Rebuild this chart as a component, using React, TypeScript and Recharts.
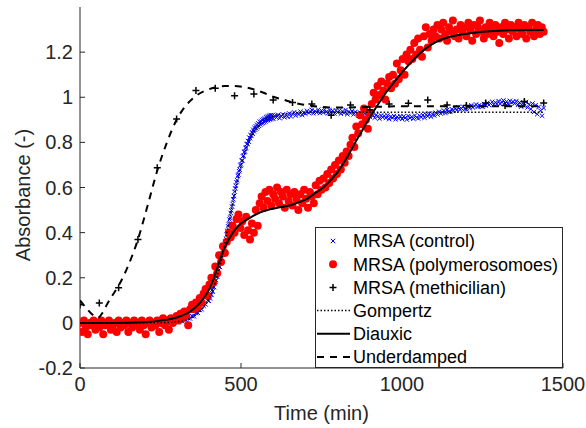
import React from 'react';
import { ComposedChart, Scatter, Line, XAxis, YAxis, Label } from 'recharts';

// sampling steps (min) of the measured series
const RED_STEP = 6;
const BLUE_EARLY_STEP = 6;
const BLUE_RISE_START = 400;
const BLUE_RISE_STEP = 2;
const BLUE_LATE_START = 600;
const BLUE_LATE_STEP = 5;
const METH_STEP = 60;

// MRSA (polymerosomoes), t = 0..1440 every 6 min
const redValues = [
  0.0, -0.04, 0.01, -0.02, -0.05, 0.0, -0.01, 0.01, -0.03, 0.0,
  -0.02, 0.01, -0.05, -0.01, 0.0, 0.01, -0.03, -0.01, 0.0, -0.04,
  0.01, -0.02, 0.0, -0.01, 0.01, -0.04, 0.0, -0.02, 0.01, -0.01,
  0.0, -0.03, 0.01, -0.01, -0.05, 0.0, 0.01, -0.02, 0.0, -0.01,
  0.01, -0.04, 0.0, 0.02, -0.01, 0.01, -0.03, 0.02, 0.0, 0.01,
  0.03, 0.01, 0.04, 0.02, 0.05, 0.03, -0.01, 0.06, 0.08, 0.06,
  0.09, 0.07, 0.11, 0.09, 0.13, 0.15, 0.12, 0.17, 0.2, 0.18,
  0.25, 0.22, 0.3, 0.27, 0.34, 0.31,
  0.36, 0.4, 0.38, 0.43, 0.4, 0.46, 0.48, 0.42, 0.45, 0.39,
  0.47, 0.41, 0.37, 0.44, 0.4, 0.5, 0.43, 0.53,
  0.56, 0.51, 0.58, 0.54, 0.59, 0.52, 0.57, 0.55, 0.6, 0.53,
  0.58, 0.56, 0.51, 0.59, 0.54, 0.57, 0.52, 0.58, 0.55, 0.5,
  0.57, 0.53, 0.59, 0.55, 0.51, 0.58, 0.56, 0.53,
  0.61, 0.57, 0.63, 0.59, 0.64, 0.6, 0.66, 0.62, 0.68, 0.64,
  0.7, 0.66, 0.72, 0.68, 0.74, 0.71, 0.76,
  0.74, 0.79, 0.82, 0.78, 0.87, 0.84, 0.92, 0.88, 0.95, 0.9,
  0.86, 0.93, 0.97, 1.02, 0.99, 1.05, 1.01, 1.07, 1.03, 0.99,
  1.06, 1.09, 1.04, 1.1, 1.06, 1.15, 1.08, 1.12, 1.17, 1.1,
  1.19, 1.16,
  1.21, 1.17, 1.24, 1.19, 1.26, 1.21, 1.18, 1.27, 1.31, 1.22,
  1.28, 1.25, 1.3,
  1.27, 1.32, 1.26, 1.3, 1.33, 1.28, 1.25, 1.31, 1.29, 1.34,
  1.27, 1.3, 1.26, 1.32, 1.29, 1.31, 1.27, 1.33, 1.3, 1.25,
  1.32, 1.28, 1.31, 1.34, 1.29, 1.26, 1.31, 1.28, 1.33, 1.3,
  1.27, 1.32, 1.29, 1.24, 1.31, 1.28, 1.33, 1.3, 1.26, 1.32,
  1.29, 1.31, 1.27, 1.33, 1.3, 1.28, 1.32, 1.26, 1.31, 1.29,
  1.33, 1.27, 1.3, 1.32, 1.28, 1.31, 1.29,
];

// MRSA (control), three sampling windows
const blueEarly = [
  0.003, -0.002, 0.004, 0.0, -0.003, 0.002, 0.005, -0.001, 0.001, -0.004,
  0.002, 0.004, -0.002, 0.0, 0.003, -0.003, 0.001, 0.005, -0.001, 0.002,
  -0.004, 0.003, 0.0, 0.004, -0.002, 0.001, 0.003, -0.003, 0.002, 0.0,
  0.004, -0.001, 0.002, -0.003, 0.005, 0.001, -0.002, 0.003, 0.0, 0.004,
  -0.001, 0.003, 0.001, 0.005, 0.0, 0.004, 0.002, 0.006, 0.003, 0.005,
  0.008, 0.003, 0.011, 0.007, 0.015, 0.012, 0.021, 0.019, 0.03, 0.029,
  0.043, 0.044, 0.057, 0.06, 0.075, 0.082, 0.1,
];
const blueRise = [
  0.098, 0.115, 0.108, 0.127, 0.124, 0.145, 0.139, 0.16, 0.158, 0.176,
  0.183, 0.19, 0.207, 0.205, 0.229, 0.232, 0.251, 0.248, 0.272, 0.279,
  0.288, 0.305, 0.309, 0.328, 0.335, 0.352, 0.361, 0.372, 0.392, 0.405,
  0.428, 0.437, 0.458, 0.466, 0.487, 0.498, 0.516, 0.527, 0.548, 0.562,
  0.581, 0.596, 0.608, 0.624, 0.632, 0.651, 0.657, 0.672, 0.679, 0.697,
  0.702, 0.718, 0.72, 0.738, 0.741, 0.757, 0.76, 0.775, 0.777, 0.792,
  0.794, 0.806, 0.803, 0.821, 0.819, 0.832, 0.829, 0.845, 0.838, 0.856,
  0.849, 0.864, 0.856, 0.871, 0.862, 0.878, 0.868, 0.884, 0.873, 0.891,
  0.879, 0.893, 0.884, 0.899, 0.887, 0.903, 0.89, 0.906, 0.893, 0.911,
  0.897, 0.914, 0.899, 0.917, 0.902, 0.919, 0.903, 0.921, 0.906, 0.92,
];
const blueLate = [
  0.905, 0.918, 0.91, 0.922, 0.907, 0.916, 0.924, 0.911, 0.92, 0.914,
  0.928, 0.915, 0.925, 0.933, 0.919, 0.93, 0.924, 0.936, 0.921, 0.932,
  0.927, 0.94, 0.931, 0.936, 0.944, 0.929, 0.938, 0.933, 0.945, 0.93,
  0.941, 0.932, 0.946, 0.935, 0.929, 0.943, 0.936, 0.94, 0.928, 0.942,
  0.933, 0.941, 0.927, 0.938, 0.931, 0.944, 0.925, 0.936, 0.93, 0.939,
  0.924, 0.935, 0.928, 0.919, 0.932, 0.925, 0.916, 0.929, 0.921, 0.927,
  0.914, 0.926, 0.918, 0.909, 0.922, 0.915, 0.905, 0.919, 0.911, 0.917,
  0.908, 0.92, 0.903, 0.914, 0.909, 0.917, 0.902, 0.913, 0.906, 0.916,
  0.904, 0.915, 0.909, 0.901, 0.917, 0.908, 0.913, 0.905, 0.919, 0.91,
  0.906, 0.918, 0.912, 0.921, 0.909, 0.923, 0.916, 0.927, 0.914, 0.925,
  0.919, 0.931, 0.924, 0.936, 0.928, 0.933, 0.941, 0.93, 0.944, 0.936,
  0.935, 0.947, 0.94, 0.951, 0.943, 0.955, 0.946, 0.95, 0.958, 0.948,
  0.947, 0.959, 0.952, 0.964, 0.955, 0.961, 0.968, 0.957, 0.965, 0.96,
  0.958, 0.97, 0.963, 0.975, 0.966, 0.972, 0.98, 0.968, 0.977, 0.971,
  0.983, 0.97, 0.979, 0.986, 0.974, 0.981, 0.969, 0.984, 0.976, 0.98,
  0.972, 0.983, 0.966, 0.977, 0.958, 0.974, 0.962, 0.979, 0.955, 0.969,
  0.948, 0.972, 0.935, 0.965, 0.925, 0.958, 0.94, 0.918, 0.952,
];

// MRSA (methicilian), t = 0..1440 every 60 min
const methValues = [
  0.08, 0.088, 0.156, 0.37, 0.687, 0.904, 1.03, 1.04, 1.007, 1.014,
  0.988, 0.977, 0.97, 0.92, 0.966, 0.945, 0.97, 0.973, 0.988, 0.966,
  0.963, 0.974, 0.963, 0.981, 0.974,
];

// fitted models
const gompertzTimes = [0, 250, 300, 330, 360, 380, 400, 420, 440, 460, 480, 500, 520, 540, 560, 580, 600, 630, 670, 720, 1440];
const gompertzValues = [0, 0.001, 0.005, 0.013, 0.035, 0.062, 0.105, 0.178, 0.285, 0.425, 0.57, 0.695, 0.785, 0.845, 0.882, 0.905, 0.917, 0.926, 0.931, 0.933, 0.933];

const diauxicTimes = [0, 100, 200, 250, 300, 340, 370, 400, 415, 430, 445, 460, 480, 500, 530, 560, 590, 620, 650, 680, 705, 730, 755, 780, 805, 830, 855, 880, 905, 930, 955, 980, 1005, 1035, 1060, 1090, 1120, 1150, 1190, 1250, 1300, 1350, 1440];
const diauxicValues = [0, 0.0, 0.003, 0.01, 0.024, 0.048, 0.085, 0.145, 0.195, 0.26, 0.32, 0.365, 0.41, 0.44, 0.468, 0.49, 0.503, 0.512, 0.52, 0.535, 0.55, 0.575, 0.6, 0.635, 0.678, 0.735, 0.8, 0.862, 0.922, 0.978, 1.03, 1.075, 1.118, 1.165, 1.2, 1.232, 1.255, 1.268, 1.279, 1.29, 1.295, 1.297, 1.298];

const underdampedTimes = [0, 20, 40, 55, 70, 85, 100, 120, 150, 180, 210, 240, 270, 300, 330, 360, 390, 420, 450, 480, 510, 540, 570, 600, 630, 660, 690, 720, 780, 840, 900, 1000, 1100, 1440];
const underdampedValues = [0.1, 0.065, 0.035, 0.022, 0.045, 0.085, 0.12, 0.165, 0.255, 0.37, 0.52, 0.675, 0.8, 0.9, 0.965, 1.006, 1.03, 1.043, 1.05, 1.05, 1.045, 1.035, 1.02, 1.002, 0.99, 0.977, 0.968, 0.962, 0.955, 0.955, 0.957, 0.96, 0.96, 0.96];

const xTicks = [0, 500, 1000, 1500];
const yTicks = [-0.2, 0, 0.2, 0.4, 0.6, 0.8, 1, 1.2];

const redData = redValues.map((v, i) => ({ t: i * RED_STEP, v }));
const blueData = [
  ...blueEarly.map((v, i) => ({ t: i * BLUE_EARLY_STEP, v })),
  ...blueRise.map((v, i) => ({ t: BLUE_RISE_START + i * BLUE_RISE_STEP, v })),
  ...blueLate.map((v, i) => ({ t: BLUE_LATE_START + i * BLUE_LATE_STEP, v })),
];
const methData = methValues.map((v, i) => ({ t: i * METH_STEP, v }));
const zip = (ts: number[], vs: number[]) => ts.map((t, i) => ({ t, v: vs[i] }));
const gompertzData = zip(gompertzTimes, gompertzValues);
const diauxicData = zip(diauxicTimes, diauxicValues);
const underdampedData = zip(underdampedTimes, underdampedValues);

const AXIS = '#262626';
const FONT = '"Liberation Sans", Arial, Helvetica, sans-serif';

const Cross = (props: any) => {
  const { cx, cy } = props;
  const s = 2.2;
  return (
    <path d={`M${cx - s},${cy - s}L${cx + s},${cy + s}M${cx - s},${cy + s}L${cx + s},${cy - s}`} stroke="#0000ff" strokeWidth={1} />
  );
};

const Dot = (props: any) => <circle cx={props.cx} cy={props.cy} r={4} fill="#ff0000" />;

const Plus = (props: any) => {
  const { cx, cy } = props;
  const s = 3.5;
  return <path d={`M${cx - s},${cy}L${cx + s},${cy}M${cx},${cy - s}L${cx},${cy + s}`} stroke="#000" strokeWidth={1.5} />;
};

const legendRows = [
  { label: 'MRSA (control)', kind: 'cross' },
  { label: 'MRSA (polymerosomoes)', kind: 'dot' },
  { label: 'MRSA (methicilian)', kind: 'plus' },
  { label: 'Gompertz', kind: 'dotted' },
  { label: 'Diauxic', kind: 'solid' },
  { label: 'Underdamped', kind: 'dashed' },
];

const LegendBox = () => (
  <div
    style={{
      position: 'absolute',
      left: 315,
      top: 227,
      width: 248,
      height: 141,
      boxSizing: 'border-box',
      border: `1px solid ${AXIS}`,
      background: '#fff',
    }}
  >
    <svg width={246} height={139} style={{ display: 'block' }}>
      {legendRows.map((r, i) => {
        const y = 13 + i * 23.2;
        let mark: React.ReactNode = null;
        if (r.kind === 'cross') mark = <Cross cx={17} cy={y} />;
        if (r.kind === 'dot') mark = <circle cx={17} cy={y} r={4} fill="#ff0000" />;
        if (r.kind === 'plus') mark = <Plus cx={17} cy={y} />;
        if (r.kind === 'dotted') mark = <line x1={1} x2={34} y1={y} y2={y} stroke="#000" strokeWidth={1.5} strokeDasharray="1.5 2" />;
        if (r.kind === 'solid') mark = <line x1={1} x2={34} y1={y} y2={y} stroke="#000" strokeWidth={2} />;
        if (r.kind === 'dashed') mark = <line x1={1} x2={34} y1={y} y2={y} stroke="#000" strokeWidth={2} strokeDasharray="7 6" />;
        return (
          <g key={r.label}>
            {mark}
            <text x={37} y={y} dy="0.36em" fontSize={18} fill="#000" fontFamily={FONT}>
              {r.label}
            </text>
          </g>
        );
      })}
    </svg>
  </div>
);

export default function App() {
  return (
    <div style={{ position: 'absolute', left: 0, top: 0, width: 586, height: 428, background: '#fff', fontFamily: FONT }}>
      <ComposedChart width={586} height={428} margin={{ top: 7, right: 23, bottom: 0, left: 0 }}>
        <XAxis
          dataKey="t"
          type="number"
          domain={[0, 1500]}
          ticks={xTicks}
          allowDataOverflow
          stroke={AXIS}
          tick={{ fill: AXIS, fontSize: 20 }}
          tickSize={-5}
          tickMargin={14}
          height={60}
        >
          <Label
            content={() => (
              <text x={321.5} y={420} textAnchor="middle" fontSize={20} fill={AXIS} fontFamily={FONT}>
                Time (min)
              </text>
            )}
          />
        </XAxis>
        <YAxis
          type="number"
          domain={[-0.2, 1.4]}
          ticks={yTicks}
          allowDataOverflow
          stroke={AXIS}
          tick={{ fill: AXIS, fontSize: 20 }}
          tickFormatter={(v: number) => String(+v.toFixed(1))}
          tickSize={-5}
          tickMargin={12}
          width={80}
        >
          <Label
            content={() => (
              <text x={30} y={195} transform="rotate(-90 30 195)" textAnchor="middle" fontSize={20} fill={AXIS} fontFamily={FONT}>
                Absorbance (-)
              </text>
            )}
          />
        </YAxis>
        <Scatter data={blueData} dataKey="v" shape={Cross} isAnimationActive={false} />
        <Scatter data={redData} dataKey="v" shape={Dot} isAnimationActive={false} />
        <Scatter data={methData} dataKey="v" shape={Plus} isAnimationActive={false} />
        <Line data={gompertzData} dataKey="v" type="monotone" stroke="#000" strokeWidth={1.5} strokeDasharray="1.5 2" dot={false} isAnimationActive={false} zIndex={700} />
        <Line data={diauxicData} dataKey="v" type="monotone" stroke="#000" strokeWidth={2} dot={false} isAnimationActive={false} zIndex={700} />
        <Line data={underdampedData} dataKey="v" type="monotone" stroke="#000" strokeWidth={2} strokeDasharray="7 6" dot={false} isAnimationActive={false} zIndex={700} />
      </ComposedChart>
      <LegendBox />
    </div>
  );
}
